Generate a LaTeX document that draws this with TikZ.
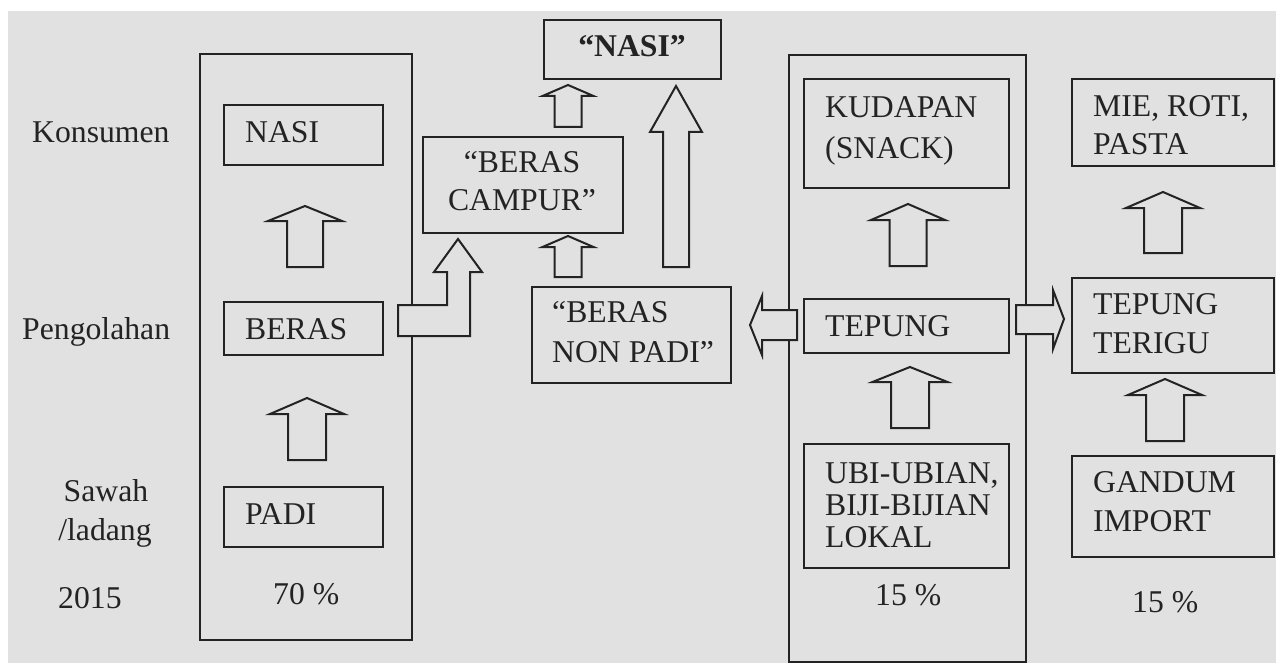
\documentclass[tikz,border=0pt]{standalone}
\usepackage{fontspec}
\setmainfont{Liberation Serif}
\definecolor{bg}{RGB}{225,225,225}
\definecolor{ink}{RGB}{35,35,35}
\tikzset{
  box/.style={draw=ink, line width=2pt, inner sep=0pt, anchor=north west},
  txt/.style={text=ink, inner sep=0pt, anchor=base west, font=\fontsize{31.7}{38}\selectfont},
  ctxt/.style={txt, anchor=base},
  blk/.style={draw=ink, line width=2pt, fill=bg, line join=miter},
}
% cx, tip y, head-base y, bottom y, head half width, shaft half width
\newcommand\myuparr[6]{%
  \draw[blk] ({#1-#6},#4) -- ({#1-#6},#3) -- ({#1-#5},#3) -- (#1,#2)
    -- ({#1+#5},#3) -- ({#1+#6},#3) -- ({#1+#6},#4) -- cycle;}
\begin{document}
\begin{tikzpicture}[x=1pt,y=-1pt]
\useasboundingbox (0,0) rectangle (1276,663);
\fill[white] (0,0) rectangle (1276,663);
\fill[bg] (8,11) rectangle (1276,663);

% row labels
\node[txt] (konsumen) at (32,143) {Konsumen};
\node[txt] (pengolahan) at (22,339) {Pengolahan};
\node[ctxt] (sawah) at (106,501) {Sawah};
\node[ctxt] (ladang) at (105,540) {/ladang};
\node[txt] (tahun) at (58,608) {2015};

% left column
\node[box, minimum width=212pt, minimum height=586pt] (bigL) at (199,53) {};
\node[box, minimum width=159pt, minimum height=60pt] (nasi) at (223,104) {};
\node[txt] (nasiT) at (245,143) {NASI};
\node[box, minimum width=159pt, minimum height=53pt] (beras) at (223,301) {};
\node[txt] (berasT) at (245,339) {BERAS};
\node[box, minimum width=159pt, minimum height=60pt] (padi) at (223,486) {};
\node[txt] (padiT) at (245,524) {PADI};
\node[txt] (pL) at (273,604) {70 \%};
\myuparr{305}{206}{221}{267}{37}{18}
\myuparr{307}{398}{414}{460}{37}{19}

% middle column
\node[box, minimum width=177pt, minimum height=59pt] (nasiB) at (543,19) {};
\node[ctxt, font=\fontsize{31.7}{38}\selectfont\bfseries] (nasiBT) at (632,57) {“NASI”};
\node[box, minimum width=200pt, minimum height=96pt] (campur) at (422,136) {};
\node[ctxt] (campurA) at (522,173) {“BERAS};
\node[ctxt] (campurB) at (522,211) {CAMPUR”};
\node[box, minimum width=199pt, minimum height=96pt] (nonpadi) at (531,286) {};
\node[txt] (nonpadiA) at (552,322) {“BERAS};
\node[txt] (nonpadiB) at (552,362) {NON PADI”};
\myuparr{568}{85}{96}{127}{25.5}{13.5}
\myuparr{568}{236}{247}{277}{25.5}{13.5}
\myuparr{676}{86}{132}{267}{26}{13}
% bent arrow from BERAS to "BERAS CAMPUR"
\draw[blk] (398,305) -- (447,305) -- (447,272) -- (434,272) -- (458,239)
  -- (482,272) -- (470,272) -- (470,336) -- (398,336) -- cycle;

% third column
\node[box, minimum width=237pt, minimum height=607pt] (bigM) at (788,54) {};
\node[box, minimum width=205pt, minimum height=109pt] (kudapan) at (803,78) {};
\node[txt] (kudapanA) at (825,118) {KUDAPAN};
\node[txt] (kudapanB) at (825,159) {(SNACK)};
\node[box, minimum width=205pt, minimum height=54pt] (tepung) at (803,298) {};
\node[txt] (tepungT) at (825,336) {TEPUNG};
\node[box, minimum width=205pt, minimum height=124pt] (ubi) at (803,443) {};
\node[txt] (ubiA) at (825,483) {UBI-UBIAN,};
\node[txt] (ubiB) at (825,515) {BIJI-BIJIAN};
\node[txt] (ubiC) at (825,547) {LOKAL};
\node[txt] (pM) at (875,605) {15 \%};
\myuparr{908}{204}{220}{266}{37}{18.5}
\myuparr{910}{367}{382}{428}{37.5}{19}
% left arrow TEPUNG -> BERAS NON PADI
\draw[blk] (797,310) -- (762,310) -- (762,296) -- (750,325) -- (762,355)
  -- (762,340) -- (797,340) -- cycle;
% right arrow TEPUNG -> TEPUNG TERIGU
\draw[blk] (1016,305) -- (1053,305) -- (1053,290) -- (1064,319) -- (1053,349)
  -- (1053,334) -- (1016,334) -- cycle;

% right column
\node[box, minimum width=202pt, minimum height=87pt] (mie) at (1071,78) {};
\node[txt] (mieA) at (1093,117) {MIE, ROTI,};
\node[txt] (mieB) at (1093,155) {PASTA};
\node[box, minimum width=202pt, minimum height=95pt] (terigu) at (1071,277) {};
\node[txt] (teriguA) at (1093,314) {TEPUNG};
\node[txt] (teriguB) at (1093,353) {TERIGU};
\node[box, minimum width=202pt, minimum height=101pt] (gandum) at (1071,455) {};
\node[txt] (gandumA) at (1093,492) {GANDUM};
\node[txt] (gandumB) at (1093,531) {IMPORT};
\node[txt] (pR) at (1132,612) {15 \%};
\myuparr{1163}{192}{208}{253}{37}{19}
\myuparr{1165}{379}{395}{441}{37}{19}
\end{tikzpicture}
\end{document}
